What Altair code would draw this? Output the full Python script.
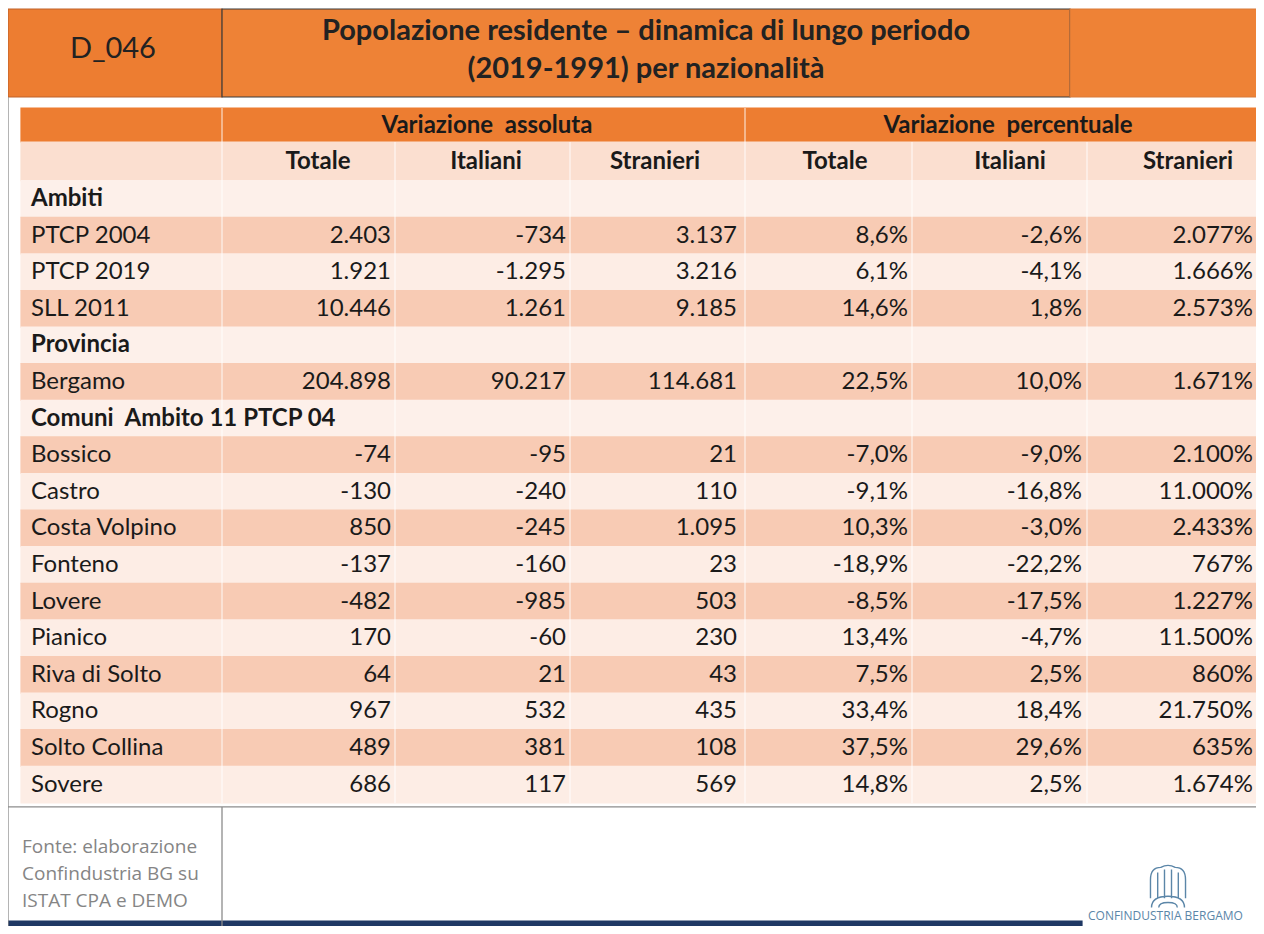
import altair as alt
import pandas as pd

# ---------------- data ----------------
row_labels = ["Ambiti", "PTCP 2004", "PTCP 2019", "SLL 2011", "Provincia", "Bergamo",
              "Comuni\u00a0 Ambito 11 PTCP 04", "Bossico", "Castro", "Costa Volpino", "Fonteno",
              "Lovere", "Pianico", "Riva di Solto", "Rogno", "Solto Collina", "Sovere"]
section_rows = ["Ambiti", "Provincia", "Comuni\u00a0 Ambito 11 PTCP 04"]
data_labels = ["PTCP 2004", "PTCP 2019", "SLL 2011", "Bergamo", "Bossico", "Castro",
               "Costa Volpino", "Fonteno", "Lovere", "Pianico", "Riva di Solto", "Rogno",
               "Solto Collina", "Sovere"]
abs_totale = [2403, 1921, 10446, 204898, -74, -130, 850, -137, -482, 170, 64, 967, 489, 686]
abs_italiani = [-734, -1295, 1261, 90217, -95, -240, -245, -160, -985, -60, 21, 532, 381, 117]
abs_stranieri = [3137, 3216, 9185, 114681, 21, 110, 1095, 23, 503, 230, 43, 435, 108, 569]
pct_totale = [8.6, 6.1, 14.6, 22.5, -7.0, -9.1, 10.3, -18.9, -8.5, 13.4, 7.5, 33.4, 37.5, 14.8]
pct_italiani = [-2.6, -4.1, 1.8, 10.0, -9.0, -16.8, -3.0, -22.2, -17.5, -4.7, 2.5, 18.4, 29.6, 2.5]
pct_stranieri = [2077, 1666, 2573, 1671, 2100, 11000, 2433, 767, 1227, 11500, 860, 21750, 635, 1674]

col_names = ["Totale", "Italiani", "Stranieri", "Totale", "Italiani", "Stranieri"]
group_names = ["Variazione\u00a0 assoluta", "Variazione\u00a0 percentuale"]
code_label = "D_046"
title_lines = ["Popolazione residente – dinamica di lungo periodo", "(2019-1991) per nazionalità"]
source_lines = ["Fonte: elaborazione", "Confindustria BG su", "ISTAT CPA e DEMO"]
logo_text = "CONFINDUSTRIA BERGAMO"

# ---------------- formatting ----------------
def fmt_int(v):
    return f"{v:,}".replace(",", ".")

def fmt_pct1(v):
    return f"{v:.1f}".replace(".", ",") + "%"

def fmt_pct0(v):
    return fmt_int(v) + "%"

# ---------------- layout (page pixel space) ----------------
ROW0 = 199.0
ROW_H = 36.6
LEFT, RIGHT = 21, 1256
LABEL_X = 31
VAL_RIGHT = [391, 566, 737, 908, 1082, 1253]
HEAD_CX = [318, 486, 655, 835, 1010, 1188]
GROUP_CX = [487, 1008]
DIVIDERS = [222, 395, 570, 745, 912, 1087]

ORANGE = "#ED7D31"
DARK = "#F8CBB4"
LIGHT = "#FDEDE5"
SECT = "#FDF0EA"
HEADPINK = "#FBDFD0"
TXT = "#1a1a1a"
FS = 24
LOGO_BLUE = "#5b86a8"

xs = alt.Scale(domain=[8, 1256], nice=False, zero=False)
ys = alt.Scale(domain=[8, 926], nice=False, zero=False, reverse=True)

def X(f):
    return alt.X(f, type="quantitative", scale=xs, axis=None)

def Y(f):
    return alt.Y(f, type="quantitative", scale=ys, axis=None)

# background rectangles
rects = []
rects.append(dict(x0=8, x1=222, y0=9, y1=97, fill=ORANGE, stroke="#c0622a"))
rects.append(dict(x0=222, x1=1070, y0=9, y1=97, fill="#EE8236", stroke="#3a3a3a"))
rects.append(dict(x0=1070, x1=1262, y0=9, y1=97, fill="#EE8236", stroke="#d77a3a"))
rects.append(dict(x0=LEFT, x1=RIGHT, y0=108, y1=142, fill=ORANGE, stroke=ORANGE))
rects.append(dict(x0=LEFT, x1=RIGHT, y0=142, y1=ROW0 - ROW_H / 2, fill=HEADPINK, stroke=HEADPINK))
for i, lab in enumerate(row_labels):
    c = ROW0 + i * ROW_H
    if lab in section_rows:
        fill = SECT
    else:
        fill = DARK if i % 2 == 1 else LIGHT
    rects.append(dict(x0=LEFT, x1=RIGHT, y0=c - ROW_H / 2, y1=c + ROW_H / 2, fill=fill, stroke=fill))
rects.append(dict(x0=8, x1=1082, y0=921, y1=926, fill="#1F3864", stroke="#1F3864"))
rect_df = pd.DataFrame(rects)

rect_layer = alt.Chart(rect_df).mark_rect(strokeWidth=1.2).encode(
    x=X("x0"), x2="x1", y=Y("y0"), y2="y1",
    color=alt.Color("fill:N", scale=None),
    stroke=alt.Stroke("stroke:N", scale=None),
)

last_bottom = ROW0 + (len(row_labels) - 1) * ROW_H + ROW_H / 2
div = [dict(x=d, y0=142, y1=last_bottom) for d in DIVIDERS]
div += [dict(x=222, y0=108, y1=142), dict(x=745, y0=108, y1=142)]
div_df = pd.DataFrame(div)
div_layer = alt.Chart(div_df).mark_rule(color="white", strokeWidth=1.5, opacity=0.6).encode(
    x=X("x"), y=Y("y0"), y2="y1")

frame = [
    dict(x0=8, x1=8, y0=97, y1=926),
    dict(x0=8, x1=1264, y0=last_bottom + 4, y1=last_bottom + 4),
    dict(x0=222, x1=222, y0=last_bottom + 4, y1=926),
]
frame_df = pd.DataFrame(frame)
frame_layer = alt.Chart(frame_df).mark_rule(color="#8c8c8c", strokeWidth=1.3).encode(
    x=X("x0"), x2="x1", y=Y("y0"), y2="y1")

# ---------------- texts ----------------
FONT = "Lato"

lab_df = pd.DataFrame([
    dict(x=LABEL_X, y=ROW0 + i * ROW_H, t=lab, sec=lab in section_rows)
    for i, lab in enumerate(row_labels)
])
lab_plain = alt.Chart(lab_df[~lab_df.sec]).mark_text(
    align="left", baseline="middle", font=FONT, fontSize=FS, color=TXT).encode(
    x=X("x"), y=Y("y"), text="t:N")
lab_bold = alt.Chart(lab_df[lab_df.sec]).mark_text(
    align="left", baseline="middle", font=FONT, fontSize=FS, fontWeight="bold", color=TXT).encode(
    x=X("x"), y=Y("y"), text="t:N")

series = [
    [fmt_int(v) for v in abs_totale],
    [fmt_int(v) for v in abs_italiani],
    [fmt_int(v) for v in abs_stranieri],
    [fmt_pct1(v) for v in pct_totale],
    [fmt_pct1(v) for v in pct_italiani],
    [fmt_pct0(v) for v in pct_stranieri],
]
vals = []
for ci, col in enumerate(series):
    for lab, s in zip(data_labels, col):
        i = row_labels.index(lab)
        vals.append(dict(x=VAL_RIGHT[ci], y=ROW0 + i * ROW_H, t=s))
val_df = pd.DataFrame(vals)
val_layer = alt.Chart(val_df).mark_text(
    align="right", baseline="middle", font=FONT, fontSize=FS, color=TXT).encode(
    x=X("x"), y=Y("y"), text="t:N")

head_df = pd.DataFrame(
    [dict(x=HEAD_CX[i], y=162, t=n) for i, n in enumerate(col_names)] +
    [dict(x=GROUP_CX[i], y=126, t=n) for i, n in enumerate(group_names)]
)
head_layer = alt.Chart(head_df).mark_text(
    align="center", baseline="middle", font=FONT, fontSize=FS, fontWeight="bold", color=TXT).encode(
    x=X("x"), y=Y("y"), text="t:N")

title_df = pd.DataFrame([dict(x=646, y=31 + 38 * i, t=s) for i, s in enumerate(title_lines)])
title_layer = alt.Chart(title_df).mark_text(
    align="center", baseline="middle", font=FONT, fontSize=29, fontWeight="bold", color="#222222").encode(
    x=X("x"), y=Y("y"), text="t:N")
code_df = pd.DataFrame([dict(x=113, y=49, t=code_label)])
code_layer = alt.Chart(code_df).mark_text(
    align="center", baseline="middle", font=FONT, fontSize=29, color="#222222").encode(
    x=X("x"), y=Y("y"), text="t:N")

src_df = pd.DataFrame([dict(x=22, y=847 + 27 * i, t=s) for i, s in enumerate(source_lines)])
src_layer = alt.Chart(src_df).mark_text(
    align="left", baseline="middle", font="Open Sans", fontSize=19, color="#858585").encode(
    x=X("x"), y=Y("y"), text="t:N")

# logo: stylised emblem + wordmark
EMBLEM = ("M -0.85 0.55 L -0.85 -0.35 Q -0.85 -0.95 -0.35 -0.95 Q 0 -1.15 0.35 -0.95 "
          "Q 0.85 -0.95 0.85 -0.35 L 0.85 0.55 "
          "M -0.5 0.55 L -0.5 -0.7 M -0.17 0.55 L -0.17 -0.85 M 0.17 0.55 L 0.17 -0.85 "
          "M 0.5 0.55 L 0.5 -0.7 "
          "M -0.8 1 Q -0.8 0.45 0 0.45 Q 0.8 0.45 0.8 1 "
          "M -0.45 1 Q -0.45 0.75 0 0.75 Q 0.45 0.75 0.45 1")
emblem_df = pd.DataFrame([dict(x=1168, y=887)])
emblem_layer = alt.Chart(emblem_df).mark_point(
    shape=EMBLEM, size=1700, filled=False, color=LOGO_BLUE, strokeWidth=1.4, opacity=1).encode(
    x=X("x"), y=Y("y"))

logo_df = pd.DataFrame([dict(x=1088, y=916, t=logo_text)])
logo_layer = alt.Chart(logo_df).mark_text(
    align="left", baseline="middle", font="Open Sans", fontSize=12, color=LOGO_BLUE).encode(
    x=X("x"), y=Y("y"), text="t:N")

chart = alt.layer(
    rect_layer, div_layer, frame_layer,
    lab_plain, lab_bold, val_layer, head_layer,
    title_layer, code_layer, src_layer, emblem_layer, logo_layer,
).properties(
    width=1248, height=918, padding=0,
    autosize=alt.AutoSizeParams(type="none"),
    background="white",
).configure_view(stroke=None)

chart.save("out.html", embed_options={"renderer": "svg", "actions": False})
